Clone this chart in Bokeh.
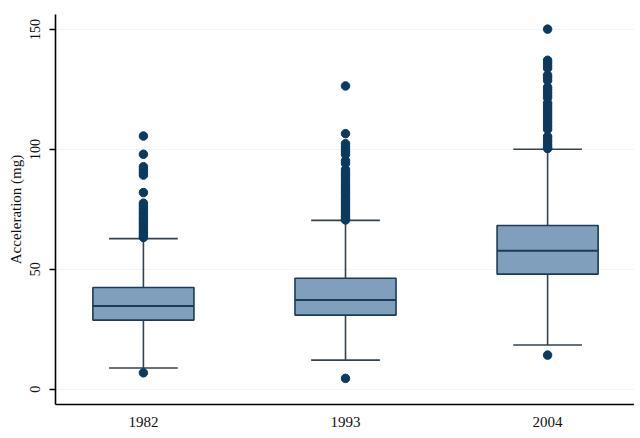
from bokeh.plotting import figure
from bokeh.models import Range1d, FixedTicker
from bokeh.embed import file_html
from bokeh.resources import INLINE

# ---- data ----
years = ["1982", "1993", "2004"]
q1 = [28.8, 30.9, 48.0]
median = [34.7, 37.2, 57.7]
q3 = [42.4, 46.3, 68.3]
lower_whisker = [8.8, 12.1, 18.4]
upper_whisker = [62.8, 70.4, 100.1]

outliers_1982 = [105.6, 98.0, 92.8, 91.6, 90.4, 89.3, 82.0, 77.6, 76.4, 75.3,
                 74.2, 73.2, 72.2, 71.2, 70.2, 69.2, 68.2, 67.2, 66.2, 65.2,
                 64.2, 63.3, 6.8]
outliers_1993 = [126.5, 106.6, 102.4, 101.2, 100.1, 99.0, 97.9, 95.3, 94.2,
                 91.6, 90.5, 89.4, 88.3, 87.2, 86.1, 85.0, 84.0, 83.0, 82.0,
                 81.0, 80.0, 79.0, 78.0, 77.0, 76.0, 75.0, 74.0, 73.0, 72.0,
                 71.0, 70.6, 4.5]
outliers_2004 = [150.2, 137.2, 136.1, 135.0, 133.9, 131.0, 129.9, 128.8, 126.0,
                 124.9, 123.8, 122.7, 121.6, 119.4, 118.3, 117.2, 116.1, 115.0,
                 113.9, 112.8, 111.7, 110.6, 109.5, 108.4, 105.4, 104.3, 103.2,
                 102.1, 101.0, 100.4, 14.2]

y_ticks = [0, 50, 100, 150]

# ---- styling ----
BOX_FILL = "#7f9fbd"
BOX_LINE = "#1d3b57"
WHISKER = "#36434f"
DOT = "#0c3a5e"
FONT = "Liberation Serif"

idx = list(range(len(years)))

p = figure(frame_width=579, frame_height=390,
           x_range=Range1d(-0.435, 2.43), y_range=Range1d(-6.4, 156.3),
           output_backend="svg", toolbar_location=None,
           min_border_left=55, min_border_right=0,
           min_border_top=14, min_border_bottom=28)

# whiskers
p.segment(x0=idx, y0=q3, x1=idx, y1=upper_whisker, line_color=WHISKER, line_width=1.6)
p.segment(x0=idx, y0=q1, x1=idx, y1=lower_whisker, line_color=WHISKER, line_width=1.6)
cap = 0.17
p.segment(x0=[i - cap for i in idx], y0=upper_whisker,
          x1=[i + cap for i in idx], y1=upper_whisker, line_color=WHISKER, line_width=1.6)
p.segment(x0=[i - cap for i in idx], y0=lower_whisker,
          x1=[i + cap for i in idx], y1=lower_whisker, line_color=WHISKER, line_width=1.6)

# boxes
p.vbar(x=idx, width=0.5, bottom=q1, top=q3, fill_color=BOX_FILL,
       line_color=BOX_LINE, line_width=1.6)
# medians
p.segment(x0=[i - 0.25 for i in idx], y0=median, x1=[i + 0.25 for i in idx], y1=median,
          line_color=BOX_LINE, line_width=2)

# outliers
for i, outs in zip(idx, [outliers_1982, outliers_1993, outliers_2004]):
    p.scatter(x=[i] * len(outs), y=outs, size=8.5, fill_color=DOT, line_color=DOT)

# axes
p.outline_line_color = None
p.xgrid.grid_line_color = None
p.ygrid.grid_line_color = "#f1f4f7"
p.ygrid.ticker = FixedTicker(ticks=y_ticks)

p.xaxis.ticker = FixedTicker(ticks=idx)
p.xaxis.major_label_overrides = {i: y for i, y in zip(idx, years)}
p.xaxis.major_tick_out = 0
p.xaxis.major_tick_in = 0
p.xaxis.minor_tick_line_color = None
p.xaxis.major_label_standoff = 12
p.xaxis.major_label_text_font = FONT
p.xaxis.major_label_text_font_size = "15px"
p.xaxis.major_label_text_color = "#111111"
p.xaxis.axis_line_color = "black"
p.xaxis.axis_line_width = 1.6

p.yaxis.ticker = FixedTicker(ticks=y_ticks)
p.yaxis.major_label_orientation = "vertical"
p.yaxis.major_tick_out = 6
p.yaxis.major_tick_in = 0
p.yaxis.minor_tick_line_color = None
p.yaxis.major_tick_line_width = 1.3
p.yaxis.major_label_standoff = 9
p.yaxis.major_label_text_font = FONT
p.yaxis.major_label_text_font_size = "14px"
p.yaxis.major_label_text_color = "#111111"
p.yaxis.axis_line_color = "black"
p.yaxis.axis_line_width = 1.6
p.yaxis.axis_label = "Acceleration (mg)"
p.yaxis.axis_label_text_font = FONT
p.yaxis.axis_label_text_font_style = "normal"
p.yaxis.axis_label_text_font_size = "15px"
p.yaxis.axis_label_text_color = "#111111"
p.yaxis.axis_label_standoff = 4

open("out.html", "w").write(file_html(p, INLINE))
